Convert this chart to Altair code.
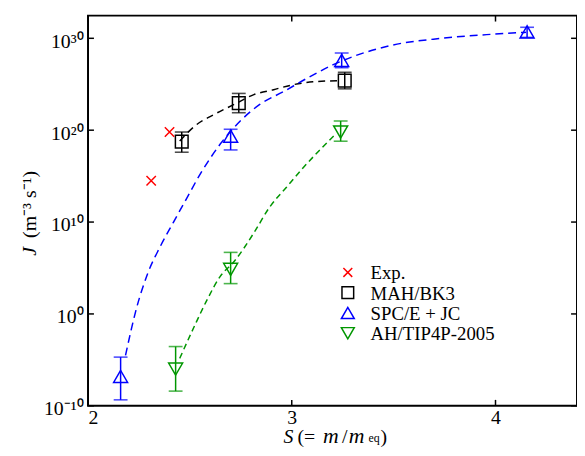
import altair as alt
import pandas as pd

FONT = "Liberation Serif"
W, H = 495, 395

# ---------------- data ----------------
# Exp.
exp_S = [2.31, 2.40]
exp_logJ = [14.5, 19.8]

# MAH/BK3
mah_S = [2.46, 2.74, 3.26]
mah_logJ = [18.75, 22.95, 25.4]
mah_lo = [17.6, 21.9, 24.5]
mah_hi = [19.8, 24.0, 26.3]

# SPC/E + JC
spc_S = [2.16, 2.70, 3.245, 4.155]
spc_logJ = [-6.8, 19.35, 27.6, 30.7]
spc_lo = [-9.35, 17.85, 26.8, 30.1]
spc_hi = [-4.7, 20.1, 28.4, 31.2]

# AH/TIP4P-2005
ah_S = [2.43, 2.70, 3.24]
ah_logJ = [-6.0, 4.85, 19.8]
ah_lo = [-8.4, 3.3, 18.8]
ah_hi = [-3.55, 6.7, 21.0]

# dashed fit curves
mah_fit_S = [2.45, 2.523, 2.62, 2.717, 2.814, 2.911, 3.007, 3.104, 3.23]
mah_fit_logJ = [18.82, 20.43, 21.72, 22.8, 23.87, 24.41, 24.95, 25.27, 25.38]

spc_fit_S = [2.184, 2.237, 2.295, 2.354, 2.417, 2.479, 2.552, 2.649, 2.746,
             2.843, 2.959, 3.07, 3.201, 3.492, 3.734, 3.976, 4.15]
spc_fit_logJ = [-4.52, 0.54, 4.52, 7.31, 9.89, 12.37, 15.27, 18.49, 20.97,
                22.8, 24.19, 25.59, 27.1, 29.25, 30.0, 30.43, 30.65]

ah_fit_S = [2.45, 2.523, 2.586, 2.649, 2.717, 2.814, 2.891, 2.973, 3.056, 3.133, 3.215]
ah_fit_logJ = [-4.84, -1.29, 1.61, 4.09, 5.7, 8.82, 11.61, 13.76, 15.91, 17.74, 19.57]

x_tick_vals = [2, 3, 4]
y_tick_exp = [-10, 0, 10, 20, 30]

legend_labels = ["Exp.", "MAH/BK3", "SPC/E + JC", "AH/TIP4P-2005"]

RED, BLACK, BLUE, GREEN = "#ff0000", "#000000", "#0000ff", "#009600"
XPATH = "M-1,-1L1,1M-1,1L1,-1"


def p10(v):
    return [10.0 ** e for e in v]


# ---------------- scales / axes ----------------
xs = alt.Scale(domain=[2, 4.4], nice=False, zero=False)
ys = alt.Scale(type="log", domain=[1e-10, 10 ** 32.47], nice=False)

x_axis = alt.Axis(values=x_tick_vals, format="d", title=None, ticks=False, domain=False,
                  grid=False, labelFont=FONT, labelFontSize=20, labelColor="black",
                  labelPadding=2)
sup_expr = ("'10' + replace(replace(replace(replace(replace('' + round(log(datum.value)/LN10),"
            " '-', '\u207b'), '0', '\u2070'), '1', '\u00b9'), '2', '\u00b2'), '3', '\u00b3')")
y_axis = alt.Axis(values=p10(y_tick_exp), title=None, ticks=False, domain=False, grid=False,
                  labelFont=FONT, labelFontSize=20, labelColor="black", labelPadding=5,
                  labelExpr=sup_expr, labelOffset=3)


def X(f):
    return alt.X(f"{f}:Q", scale=xs, axis=x_axis)


def Y(f):
    return alt.Y(f"{f}:Q", scale=ys, axis=y_axis)


layers = []

# fits
for fs, fl, col, dash in [(mah_fit_S, mah_fit_logJ, BLACK, [7, 5]),
                          (spc_fit_S, spc_fit_logJ, BLUE, [8, 5]),
                          (ah_fit_S, ah_fit_logJ, GREEN, [6, 4])]:
    d = pd.DataFrame({"S": fs, "J": p10(fl)})
    layers.append(alt.Chart(d).mark_line(color=col, strokeDash=dash, strokeWidth=1.5,
                                         interpolate="monotone")
                  .encode(x=X("S"), y=Y("J")))

# series with error bars
for s, l, lo, hi, col, shape, size in [
        (mah_S, mah_logJ, mah_lo, mah_hi, BLACK, "square", 165),
        (spc_S, spc_logJ, spc_lo, spc_hi, BLUE, "triangle-up", 200),
        (ah_S, ah_logJ, ah_lo, ah_hi, GREEN, "triangle-down", 200)]:
    d = pd.DataFrame({"S": s, "J": p10(l), "lo": p10(lo), "hi": p10(hi)})
    base = alt.Chart(d)
    layers.append(base.mark_rule(color=col, strokeWidth=1.5)
                  .encode(x=X("S"), y=Y("lo"), y2=alt.Y2("hi:Q")))
    for f in ["lo", "hi"]:
        layers.append(base.mark_tick(color=col, orient="horizontal", size=14, thickness=1.6)
                      .encode(x=X("S"), y=Y(f)))
    layers.append(base.mark_point(shape=shape, size=size, filled=False, color=col,
                                  strokeWidth=1.5, opacity=1)
                  .encode(x=X("S"), y=Y("J")))

# experiment
d_exp = pd.DataFrame({"S": exp_S, "J": p10(exp_logJ)})
layers.append(alt.Chart(d_exp).mark_point(shape=XPATH, size=90, filled=False, color=RED,
                                          strokeWidth=1.5, opacity=1)
              .encode(x=X("S"), y=Y("J")))

# inward ticks on all four sides
xt = pd.DataFrame({"S": x_tick_vals})
yt = pd.DataFrame({"J": p10(y_tick_exp)})
layers.append(alt.Chart(xt).mark_rule(color="black", strokeWidth=1.5)
              .encode(x=X("S"), y=alt.value(H), y2=alt.value(H - 6)))
layers.append(alt.Chart(xt).mark_rule(color="black", strokeWidth=1.5)
              .encode(x=X("S"), y=alt.value(0), y2=alt.value(6)))
layers.append(alt.Chart(yt).mark_rule(color="black", strokeWidth=1.5)
              .encode(y=Y("J"), x=alt.value(0), x2=alt.value(6)))
layers.append(alt.Chart(yt).mark_rule(color="black", strokeWidth=1.5)
              .encode(y=Y("J"), x=alt.value(W), x2=alt.value(W - 6)))

# legend (manual)
leg_rows = [260, 280.5, 301, 321.5]
leg_shapes = [XPATH, "square", "triangle-up", "triangle-down"]
leg_sizes = [80, 140, 170, 170]
leg_colors = [RED, BLACK, BLUE, GREEN]
for lab, yy, shp, sz, col in zip(legend_labels, leg_rows, leg_shapes, leg_sizes, leg_colors):
    d = pd.DataFrame({"label": [lab]})
    layers.append(alt.Chart(d).mark_point(shape=shp, size=sz, filled=False, color=col,
                                          strokeWidth=1.5, opacity=1)
                  .encode(x=alt.value(263), y=alt.value(yy)))
    layers.append(alt.Chart(d).mark_text(align="left", baseline="middle", font=FONT,
                                         fontSize=19, color="black")
                  .encode(x=alt.value(286), y=alt.value(yy + 1), text="label:N"))

# axis titles as rich text pieces
xtitle_pieces = [("S", 198, 433, 20, "italic"), ("(=", 212, 433, 20, "normal"),
                 ("m", 238, 433, 22, "italic"), ("/", 257, 433, 20, "normal"),
                 ("m", 264, 433, 22, "italic"), ("eq", 284, 432, 12, "normal"),
                 (")", 296, 433, 20, "normal")]
for txt, xx, yy, fs, sty in xtitle_pieces:
    d = pd.DataFrame({"t": [txt]})
    layers.append(alt.Chart(d).mark_text(align="left", baseline="alphabetic", font=FONT,
                                         fontSize=fs, fontStyle=sty, color="black")
                  .encode(x=alt.value(xx), y=alt.value(yy), text="t:N"))

ytitle_pieces = [("J", -53, 243, "italic"), ("(m\u207b\u00b3 s\u207b\u00b9)", -53, 225, "normal")]
for txt, xx, yy, sty in ytitle_pieces:
    d = pd.DataFrame({"t": [txt]})
    layers.append(alt.Chart(d).mark_text(align="left", baseline="alphabetic", font=FONT,
                                         fontSize=20, fontStyle=sty, angle=270, color="black")
                  .encode(x=alt.value(xx), y=alt.value(yy), text="t:N"))

chart = alt.layer(*layers).properties(
    width=W, height=H,
    autosize=alt.AutoSizeParams(type="none"),
    padding={"left": 81, "top": 5, "right": 0, "bottom": 40},
    background="white",
).configure(font=FONT).configure_view(stroke="black", strokeWidth=2)

chart.save("out.html", embed_options={"renderer": "svg", "actions": False})
